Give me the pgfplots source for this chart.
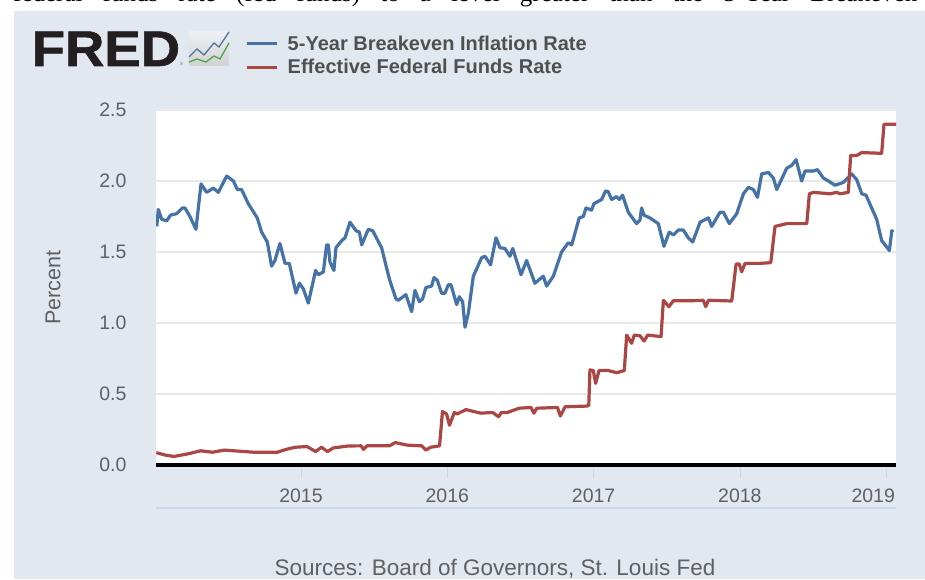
\documentclass[border=0pt]{standalone}
\usepackage{pgfplots}
\pgfplotsset{compat=1.18}
\usepackage{fontspec}
\setmainfont{Liberation Sans}
\newfontfamily\serifz{Liberation Serif}
\newfontfamily\fredf[FakeBold=1.2]{Liberation Sans Bold}
\definecolor{panel}{HTML}{E1E8F0}
\definecolor{fredblue}{HTML}{4572A7}
\definecolor{fredred}{HTML}{AA4643}
\definecolor{lab}{HTML}{606060}
\definecolor{legt}{HTML}{505050}
\definecolor{gridc}{HTML}{E8E8E8}
\definecolor{tickc}{HTML}{CCD6EB}
\definecolor{logoc}{HTML}{231F20}
\begin{document}
\begin{tikzpicture}[x=1pt,y=1pt]
\path[use as bounding box] (0,0) rectangle (925,579);
\clip (0,0) rectangle (925,579);
\fill[white] (0,0) rectangle (925,579);
\fill[panel] (14,0) rectangle (925,568);
\node[anchor=base west,inner sep=0pt,text=black] at (13,577) {\serifz\fontsize{25}{28}\selectfont\makebox[904pt][s]{federal funds rate (fed funds) to a level greater than the 5-Year Breakeven}};
% logo
\node[anchor=base west,inner sep=0pt,text=logoc] at (31.5,513) {\fontsize{50}{50}\fredf\selectfont\scalebox{1.09}[1]{FRED}};
\node[anchor=base west,inner sep=0pt,text=lab] at (180,513) {\fontsize{4}{4}\selectfont ®};
\shade[top color=panel!60!white,bottom color=black!18,rounded corners=1.5pt] (189,513) rectangle (229,548);
\draw[fredblue!80!gray,line width=1.3pt] (189,522)--(197,530)--(204,524)--(214,536)--(219,532)--(229,547);
\draw[green!50!black!70!white,line width=1.3pt] (189,517)--(197,520)--(206,517)--(214,523)--(220,520)--(229,536);
\draw[tickc,line width=1.6pt] (156,71)--(896,71);
\node[anchor=base,text=lab,inner sep=0pt] at (495,4) {\fontsize{22.5}{26}\selectfont Sources: Board of Governors, St. Louis Fed};
\begin{axis}[
  scale only axis, width=740pt, height=355pt,
  at={(156pt,114pt)}, anchor=south west,
  xmin=2014.009, xmax=2019.067, ymin=0, ymax=2.5,
  axis background/.style={fill=white},
  axis x line*=bottom, axis y line*=left,
  x axis line style={black,line width=3.5pt,-},
  y axis line style={draw=none},
  xtick={2015,2016,2017,2018,2019},
  xticklabels={2015,2016,2017,2018,\hspace*{-26pt}2019},
  ytick={0,0.5,1,1.5,2,2.5},
  yticklabels={0.0,0.5,1.0,1.5,2.0,2.5},
  ymajorgrids, grid style={gridc,line width=1.1pt},
  tick align=outside,
  ytick style={draw=none},
  xtick style={draw=tickc,line width=0.8pt},
  major tick length=13pt,
  ticklabel style={font=\fontsize{19.5}{22}\selectfont,text=lab},
  xticklabel style={yshift=-7pt},
  yticklabel style={xshift=-13pt},
  ylabel={Percent},
  ylabel style={at={(axis description cs:-0.139,0.5)},anchor=center,font=\fontsize{21.5}{24}\selectfont,text=lab},
  legend style={at={(0.121,1.216)},anchor=north west,draw=none,fill=none,
    font=\fontsize{20}{21}\bfseries\selectfont,text=legt,row sep=3.5pt,inner sep=0pt,
    cells={anchor=west}},
  legend image code/.code={\draw[#1,line width=3pt] (0pt,0pt)--(30pt,0pt);},
  legend cell align=left,
  clip=true,
]
\addplot[fredblue,line width=3.2pt,line join=round] coordinates {
(2014.014,1.68)(2014.025,1.80)(2014.048,1.73)(2014.082,1.72)(2014.109,1.76)(2014.150,1.77)(2014.189,1.81)(2014.207,1.81)(2014.241,1.75)(2014.282,1.66)
(2014.317,1.98)(2014.355,1.92)(2014.401,1.95)(2014.435,1.92)(2014.492,2.035)(2014.538,2.00)(2014.565,1.94)(2014.594,1.94)(2014.640,1.84)(2014.701,1.74)
(2014.731,1.64)(2014.770,1.57)(2014.799,1.40)(2014.822,1.44)(2014.856,1.56)(2014.891,1.42)(2014.920,1.42)(2014.966,1.21)(2014.989,1.28)(2015.016,1.24)
(2015.050,1.14)(2015.100,1.37)(2015.118,1.34)(2015.153,1.36)(2015.175,1.55)(2015.187,1.55)(2015.198,1.43)(2015.225,1.37)(2015.239,1.53)(2015.278,1.58)
(2015.301,1.60)(2015.335,1.71)(2015.376,1.65)(2015.399,1.64)(2015.415,1.55)(2015.460,1.66)(2015.490,1.65)(2015.551,1.53)(2015.604,1.31)(2015.649,1.17)
(2015.665,1.16)(2015.717,1.20)(2015.756,1.08)(2015.779,1.23)(2015.809,1.15)(2015.831,1.17)(2015.854,1.25)(2015.893,1.26)(2015.909,1.32)(2015.932,1.30)
(2015.961,1.21)(2015.984,1.21)(2016.007,1.27)(2016.025,1.27)(2016.064,1.13)(2016.082,1.185)(2016.105,1.15)(2016.121,0.97)(2016.144,1.07)(2016.178,1.33)
(2016.235,1.46)(2016.258,1.47)(2016.296,1.41)(2016.333,1.60)(2016.360,1.53)(2016.394,1.525)(2016.428,1.47)(2016.447,1.525)(2016.504,1.34)(2016.542,1.44)
(2016.599,1.28)(2016.656,1.33)(2016.679,1.26)(2016.725,1.33)(2016.781,1.50)(2016.827,1.565)(2016.850,1.55)(2016.902,1.74)(2016.930,1.75)(2016.948,1.81)
(2016.986,1.795)(2017.002,1.84)(2017.055,1.87)(2017.082,1.93)(2017.100,1.925)(2017.123,1.87)(2017.157,1.89)(2017.176,1.87)(2017.198,1.90)(2017.237,1.78)
(2017.294,1.70)(2017.317,1.725)(2017.328,1.81)(2017.344,1.76)(2017.385,1.74)(2017.442,1.70)(2017.481,1.54)(2017.517,1.64)(2017.545,1.62)(2017.579,1.655)
(2017.613,1.655)(2017.647,1.60)(2017.677,1.57)(2017.728,1.71)(2017.785,1.74)(2017.807,1.68)(2017.864,1.78)(2017.887,1.78)(2017.928,1.70)(2017.978,1.77)
(2018.024,1.91)(2018.058,1.955)(2018.092,1.94)(2018.120,1.885)(2018.149,2.05)(2018.195,2.06)(2018.229,2.02)(2018.252,1.94)(2018.320,2.09)(2018.354,2.11)
(2018.384,2.15)(2018.422,2.00)(2018.445,2.07)(2018.502,2.07)(2018.530,2.08)(2018.571,2.02)(2018.605,2.00)(2018.650,1.97)(2018.707,1.99)(2018.764,2.05)
(2018.798,2.01)(2018.833,1.91)(2018.862,1.90)(2018.935,1.73)(2018.969,1.58)(2019.022,1.51)(2019.038,1.65)(2019.049,1.64)
};
\addlegendentry{\hspace*{7pt}5-Year Breakeven Inflation Rate}
\addplot[fredred,line width=3.2pt,line join=round] coordinates {
(2014.011,0.087)(2014.072,0.07)(2014.132,0.06)(2014.233,0.08)(2014.314,0.10)(2014.395,0.09)(2014.475,0.105)(2014.677,0.09)(2014.838,0.09)(2014.899,0.11)
(2014.959,0.125)(2015.040,0.13)(2015.100,0.095)(2015.140,0.125)(2015.181,0.095)(2015.221,0.12)(2015.322,0.134)(2015.411,0.135)(2015.427,0.11)(2015.451,0.135)
(2015.604,0.135)(2015.645,0.158)(2015.725,0.14)(2015.826,0.135)(2015.854,0.105)(2015.886,0.125)(2015.947,0.135)(2015.967,0.376)(2015.995,0.36)(2016.015,0.28)
(2016.048,0.37)(2016.068,0.36)(2016.128,0.39)(2016.229,0.365)(2016.310,0.37)(2016.350,0.34)(2016.370,0.37)(2016.411,0.37)(2016.491,0.40)(2016.572,0.405)
(2016.592,0.365)(2016.612,0.40)(2016.753,0.405)(2016.773,0.345)(2016.805,0.41)(2016.955,0.415)(2016.967,0.42)
(2016.975,0.67)(2016.998,0.665)(2017.014,0.575)(2017.037,0.665)(2017.101,0.665)(2017.158,0.65)(2017.210,0.665)
(2017.226,0.915)(2017.260,0.857)(2017.278,0.915)(2017.317,0.91)(2017.345,0.873)(2017.370,0.915)(2017.461,0.904)
(2017.477,1.16)(2017.515,1.115)(2017.545,1.157)(2017.682,1.157)(2017.750,1.16)(2017.766,1.115)(2017.785,1.16)(2017.944,1.155)
(2017.974,1.415)(2017.996,1.415)(2018.012,1.36)(2018.035,1.42)(2018.138,1.42)(2018.211,1.425)
(2018.240,1.68)(2018.320,1.70)(2018.457,1.70)(2018.475,1.91)(2018.502,1.92)(2018.616,1.91)(2018.662,1.92)(2018.684,1.91)(2018.741,1.92)
(2018.757,2.18)(2018.798,2.18)(2018.833,2.20)(2018.969,2.195)(2018.985,2.40)(2019.067,2.40)
};
\addlegendentry{\hspace*{7pt}Effective Federal Funds Rate}
\end{axis}
\end{tikzpicture}
\end{document}
